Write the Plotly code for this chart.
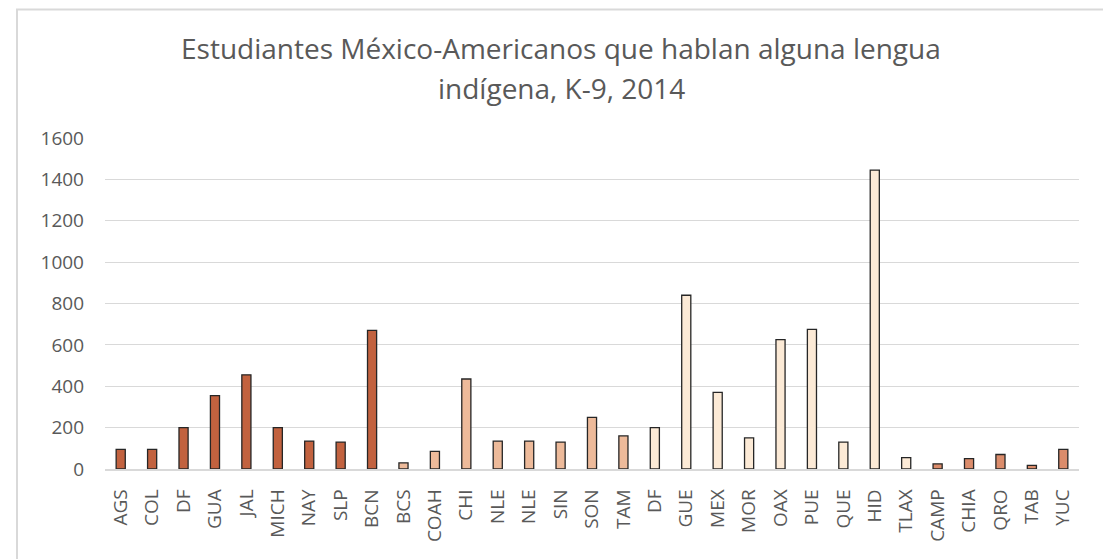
import plotly.graph_objects as go

labels = ["AGS", "COL", "DF", "GUA", "JAL", "MICH", "NAY", "SLP", "BCN", "BCS",
          "COAH", "CHI", "NLE", "NLE", "SIN", "SON", "TAM", "DF", "GUE", "MEX",
          "MOR", "OAX", "PUE", "QUE", "HID", "TLAX", "CAMP", "CHIA", "QRO", "TAB", "YUC"]
values = [95, 95, 200, 355, 455, 200, 135, 130, 670, 30,
          85, 435, 135, 135, 130, 250, 160, 200, 840, 370,
          150, 625, 675, 130, 1445, 55, 25, 50, 70, 18, 95]
groups = [1] * 9 + [2] * 8 + [3] * 9 + [4] * 5
group_colors = {1: "#C2623F", 2: "#EDBA9A", 3: "#FCEAD6", 4: "#DB8C6B"}
y_ticks = [0, 200, 400, 600, 800, 1000, 1200, 1400, 1600]
title_lines = ["Estudiantes México-Americanos que hablan alguna lengua",
               "indígena, K-9, 2014"]

idx = list(range(len(labels)))
colors = [group_colors[g] for g in groups]

OFF = 8  # page body margin
W, H = 1111, 559
ML, MR, MT, MB = 105 - OFF, 32 + OFF, 138 - OFF, 90 + OFF

fig = go.Figure(go.Bar(
    x=idx, y=values,
    marker=dict(color=colors, line=dict(color="#262626", width=1.3)),
))

pw = W - ML - MR
ph = H - MT - MB
def px_x(p): return (p - OFF - ML) / pw
def px_y(p): return (H - MB - (p - OFF)) / ph

title_font = dict(family="Open Sans", size=28, color="#595959")
annotations = [
    dict(text=title_lines[0], xref="paper", yref="paper", x=px_x(561), y=px_y(48),
         xanchor="center", yanchor="middle", showarrow=False, font=title_font),
    dict(text=title_lines[1], xref="paper", yref="paper", x=px_x(561), y=px_y(88),
         xanchor="center", yanchor="middle", showarrow=False, font=title_font),
]

fig.update_layout(
    width=W, height=H,
    margin=dict(l=ML, r=MR, t=MT, b=MB),
    paper_bgcolor="white", plot_bgcolor="white",
    bargap=0.71,
    showlegend=False,
    annotations=annotations,
    xaxis=dict(
        tickmode="array", tickvals=idx, ticktext=labels,
        tickangle=-90, range=[-0.5, len(labels) - 0.5],
        showgrid=False, showline=True, linecolor="#D9D9D9", linewidth=1.5,
        ticks="", tickfont=dict(family="Open Sans", size=19, color="#595959"),
        ticklabelstandoff=11,
    ),
    yaxis=dict(
        range=[0, 1600], tickmode="array", tickvals=y_ticks,
        showgrid=True, gridcolor="#D9D9D9", gridwidth=1,
        zeroline=False, showline=False, ticks="",
        tickfont=dict(family="Open Sans", size=19, color="#595959"),
        ticklabelstandoff=20,
    ),
    font=dict(family="Open Sans", color="#595959"),
    shapes=[dict(
        type="rect", xref="paper", yref="paper",
        x0=px_x(17), x1=px_x(1108), y0=px_y(580), y1=px_y(9.5),
        line=dict(color="#D9D9D9", width=2), fillcolor="rgba(0,0,0,0)", layer="below",
    )],
)

fig.write_html("out.html")
